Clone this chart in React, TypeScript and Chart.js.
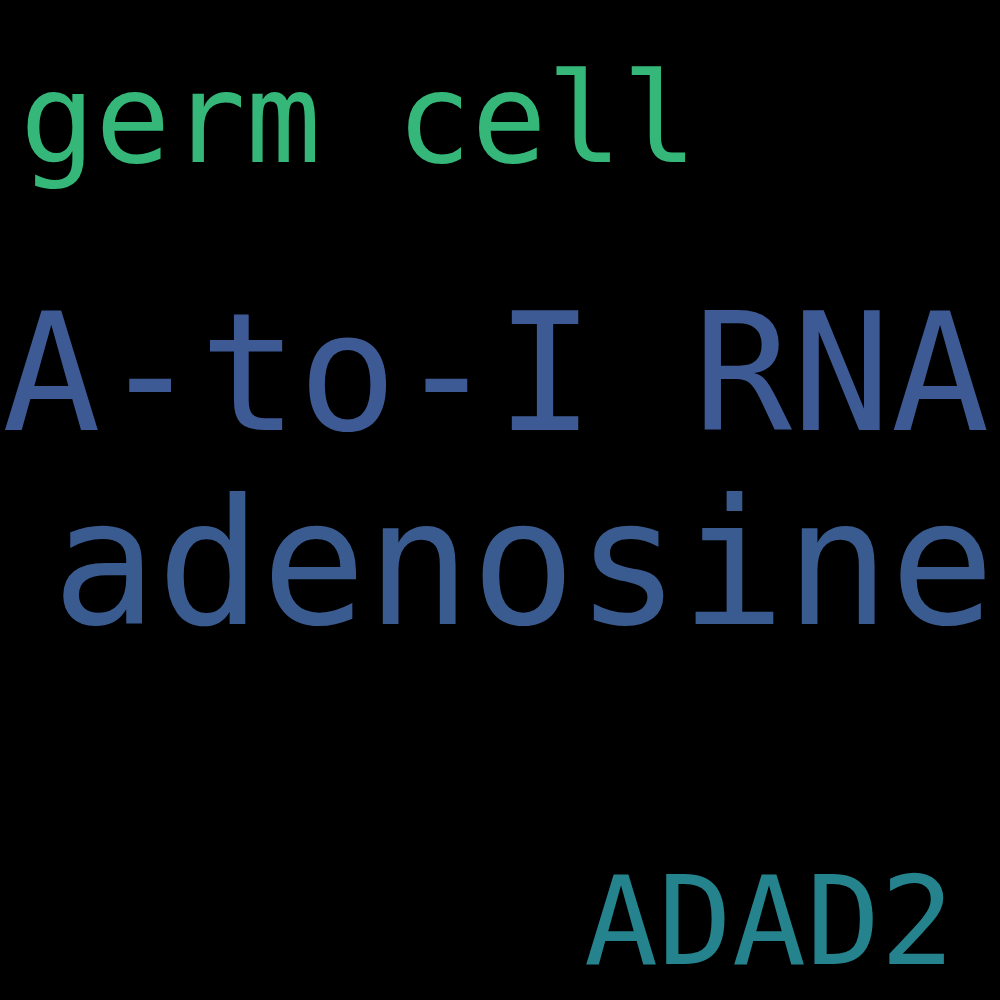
import { useEffect, useRef } from "react";
import { Chart, registerables, Plugin } from "chart.js";

Chart.register(...registerables);

const words = ["germ cell", "A-to-I RNA", "adenosine", "ADAD2"];
const wordX = [20, 2, 52, 584];
const wordY = [162, 430, 624, 964];
const wordSize = [125, 164, 174, 123];
const wordColors = ["#35b779", "#3e5a94", "#3a5b8f", "#25838e"];

const wordPlugin: Plugin = {
  id: "words",
  beforeDraw(chart) {
    const c = chart.ctx;
    c.save();
    c.fillStyle = "#000";
    c.fillRect(0, 0, chart.width, chart.height);
    c.restore();
  },
  afterDatasetsDraw(chart) {
    const c = chart.ctx;
    const meta = chart.getDatasetMeta(0);
    c.save();
    c.textAlign = "left";
    c.textBaseline = "alphabetic";
    meta.data.forEach((pt, i) => {
      c.font = `${wordSize[i]}px "DejaVu Sans Mono"`;
      c.fillStyle = wordColors[i];
      c.fillText(words[i], pt.x, pt.y);
    });
    c.restore();
  },
};

export default function App() {
  const canvasRef = useRef<HTMLCanvasElement>(null);

  useEffect(() => {
    document.body.style.margin = "0";
    if (!canvasRef.current) return;
    const chart = new Chart(canvasRef.current, {
      type: "scatter",
      data: {
        datasets: [{
          data: words.map((_, i) => ({ x: wordX[i], y: wordY[i] })),
          pointRadius: 0,
        }],
      },
      options: {
        animation: false,
        responsive: true,
        maintainAspectRatio: false,
        layout: { padding: 0 },
        plugins: { legend: { display: false }, tooltip: { enabled: false } },
        scales: {
          x: { type: "linear", min: 0, max: 1000, display: false },
          y: { type: "linear", min: 0, max: 1000, reverse: true, display: false },
        },
      },
      plugins: [wordPlugin],
    });
    return () => chart.destroy();
  }, []);

  return (
    <div style={{ width: 1000, height: 1000, background: "#000" }}>
      <canvas ref={canvasRef} />
    </div>
  );
}
